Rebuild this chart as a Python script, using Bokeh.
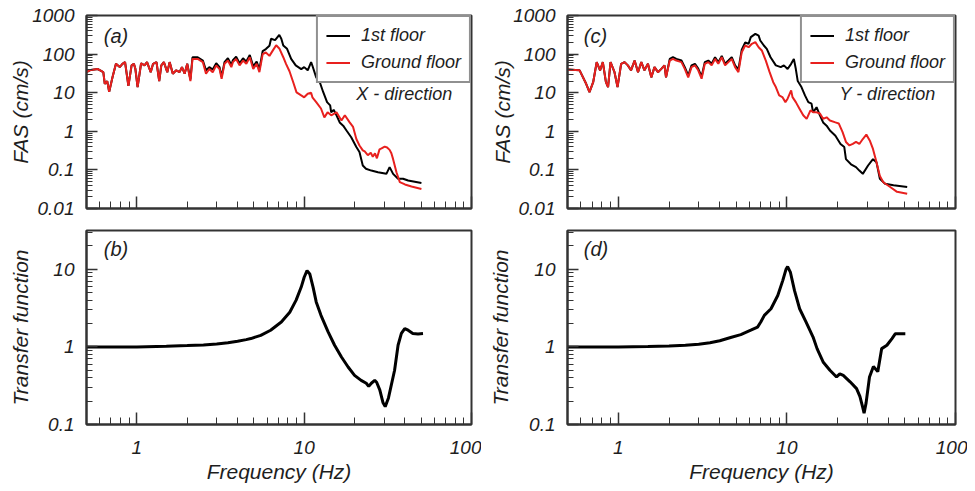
from bokeh.plotting import figure
from bokeh.layouts import row, column
from bokeh.models import Label, LogTicker, CustomJSTickFormatter, CustomLabelingPolicy
from bokeh.embed import file_html
from bokeh.resources import INLINE

# ---------------- data ----------------
# Panel (a): X-direction Fourier amplitude spectra
fx_ground_f = [0.50, 0.53, 0.585, 0.63, 0.643, 0.665, 0.683, 0.715, 0.75, 0.79, 0.82, 0.85, 0.89, 0.93,
               0.96, 0.98, 1.01, 1.06, 1.11, 1.15, 1.21, 1.25, 1.31, 1.36, 1.40, 1.45, 1.52, 1.57, 1.64,
               1.72, 1.80, 1.86, 1.93, 2.00, 2.09, 2.15, 2.31, 2.48, 2.59, 2.71, 2.84, 2.98, 3.12, 3.21,
               3.34, 3.50, 3.67, 3.75, 3.92, 4.11, 4.31, 4.51, 4.73, 4.96, 5.20, 5.40, 5.65, 5.90, 6.20,
               6.50, 6.80, 7.10, 7.50, 7.80, 8.17, 8.60, 9.00, 9.60, 10.0, 10.5, 11.0, 11.2, 11.8, 12.6,
               13.2, 13.8, 14.5, 15.6, 16.7, 17.5, 18.7, 19.6, 20.5, 21.4, 22.4, 23.0, 24.0, 25.0, 25.7,
               26.5, 27.2, 28.2, 29.0, 30.3, 31.3, 32.4, 33.2, 34.0, 35.6, 37.3, 40.0, 43.8, 50.2]
fx_ground_v = [34, 39, 41, 34, 17, 20, 10.5, 25, 56, 46, 56, 62, 15, 51,
               56, 41, 14, 58, 51, 62, 34, 56, 62, 20, 51, 62, 34, 62, 31,
               38, 34, 46, 31, 56, 20, 75, 75, 62, 31, 41, 34, 51, 41, 23,
               56, 68, 46, 62, 75, 51, 68, 56, 83, 41, 56, 34, 100, 110, 90,
               125, 170, 140, 83, 55, 36, 18.7, 10.2, 8.5, 7.6, 9.4, 10, 7.6, 5.7, 3.9,
               2.3, 3.1, 2.6, 3.1, 1.9, 2.6, 1.7, 1.3, 0.63, 0.43, 0.32, 0.30, 0.24, 0.28, 0.22,
               0.27, 0.20, 0.34, 0.36, 0.40, 0.38, 0.33, 0.27, 0.19, 0.087, 0.048, 0.042, 0.037, 0.032]

fx_first_f = [0.50, 0.53, 0.585, 0.63, 0.643, 0.665, 0.683, 0.715, 0.75, 0.79, 0.82, 0.85, 0.89, 0.93,
              0.96, 0.98, 1.01, 1.06, 1.11, 1.15, 1.21, 1.25, 1.31, 1.36, 1.40, 1.45, 1.52, 1.57, 1.64,
              1.72, 1.80, 1.86, 1.93, 2.00, 2.09, 2.15, 2.31, 2.48, 2.59, 2.71, 2.84, 2.98, 3.12, 3.21,
              3.34, 3.50, 3.67, 3.75, 3.92, 4.11, 4.31, 4.51, 4.73, 4.96, 5.20, 5.40, 5.65, 5.90, 6.20,
              6.34, 6.70, 7.10, 7.30, 7.50, 7.90, 8.36, 8.90, 9.60, 10.0, 10.5, 11.0, 11.2, 11.8, 12.4,
              13.0, 13.7, 14.3, 14.5, 15.0, 15.6, 16.3, 17.1, 17.9, 19.1, 20.5, 21.4, 22.4, 23.4, 25.2,
              27.6, 31.0, 32.4, 34.0, 36.4, 39.0, 41.8, 50.2]
fx_first_v = [34, 39, 41, 34, 17, 20, 10.5, 25, 56, 46, 56, 62, 15, 51,
              56, 41, 14, 58, 51, 62, 34, 56, 62, 20, 51, 62, 34, 62, 31,
              38, 34, 46, 31, 56, 22, 83, 83, 68, 38, 46, 40, 58, 46, 26,
              62, 78, 52, 70, 85, 58, 78, 64, 95, 48, 64, 40, 120, 135, 165,
              250, 230, 315, 250, 167, 137, 75, 51, 41, 46, 38, 62, 50, 25, 18.7,
              10.3, 5.7, 4.7, 3.1, 3.6, 2.6, 1.7, 1.4, 1.05, 0.70, 0.39, 0.29, 0.13, 0.107, 0.096,
              0.087, 0.079, 0.118, 0.079, 0.059, 0.059, 0.053, 0.046]

# Panel (c): Y-direction Fourier amplitude spectra
fy_ground_f = [0.50, 0.59, 0.645, 0.675, 0.71, 0.745, 0.78, 0.81, 0.845, 0.87, 0.90, 0.95, 0.99, 1.04,
               1.09, 1.14, 1.19, 1.25, 1.31, 1.37, 1.43, 1.50, 1.57, 1.64, 1.72, 1.80, 1.88, 1.92, 2.02,
               2.11, 2.21, 2.37, 2.48, 2.60, 2.72, 2.85, 2.98, 3.12, 3.26, 3.42, 3.58, 3.75, 3.92, 4.11,
               4.30, 4.50, 4.71, 4.93, 5.16, 5.40, 5.66, 5.93, 6.20, 6.50, 6.80, 7.10, 7.50, 7.90, 8.30,
               8.60, 9.00, 9.40, 9.80, 10.1, 10.6, 10.8, 11.3, 11.9, 12.5, 13.1, 13.8, 14.3, 15.0, 15.7,
               16.4, 17.2, 18.0, 19.4, 20.3, 21.4, 22.4, 23.5, 24.6, 25.7, 26.9, 28.2, 29.6, 31.0, 32.4,
               34.0, 35.6, 37.3, 41.0, 45.0, 51.7]
fy_ground_v = [40, 38, 17, 10.3, 18.7, 62, 38, 62, 18.7, 14, 62, 34, 14, 56,
               62, 51, 38, 68, 34, 62, 38, 56, 25, 46, 34, 41.5, 51, 25, 68,
               75, 68, 62, 41.5, 25, 46, 51, 38, 23, 56, 62, 51, 75, 56, 83,
               51, 62, 75, 46, 34, 112, 167, 151, 185, 204, 151, 124, 68, 34, 18.7,
               14, 8.5, 7.7, 5.7, 7.0, 11.5, 7.7, 5.7, 3.8, 2.6, 2.1, 3.5, 3.1, 3.1, 2.9,
               2.1, 2.3, 1.9, 1.7, 1.6, 0.95, 0.53, 0.43, 0.47, 0.53, 0.47, 0.63, 0.82, 0.58, 0.35,
               0.157, 0.07, 0.048, 0.036, 0.027, 0.024]

fy_first_f = [0.50, 0.59, 0.645, 0.675, 0.71, 0.745, 0.78, 0.81, 0.845, 0.87, 0.90, 0.95, 0.99, 1.04,
              1.09, 1.14, 1.19, 1.25, 1.31, 1.37, 1.43, 1.50, 1.57, 1.64, 1.72, 1.80, 1.88, 1.92, 2.02,
              2.11, 2.21, 2.37, 2.48, 2.60, 2.72, 2.85, 2.98, 3.12, 3.26, 3.42, 3.58, 3.75, 3.92, 4.11,
              4.30, 4.50, 4.71, 4.93, 5.16, 5.40, 5.66, 5.93, 6.11, 6.50, 6.80, 6.95, 7.30, 7.60, 8.00,
              8.60, 9.20, 9.60, 10.1, 10.6, 11.0, 11.3, 11.6, 12.2, 12.8, 13.4, 14.0, 14.3, 15.0, 15.7,
              16.4, 17.2, 18.0, 19.4, 20.8, 21.9, 22.4, 24.0, 25.7, 26.9, 28.2, 30.3, 32.4, 34.0, 35.6,
              38.2, 42.9, 51.7]
fy_first_v = [40, 38, 17, 10.3, 18.7, 62, 38, 62, 18.7, 14, 62, 34, 14, 56,
              62, 51, 38, 68, 34, 62, 38, 56, 25, 46, 34, 41.5, 51, 25, 75,
              83, 75, 68, 46, 28, 51, 56, 42, 26, 62, 68, 56, 83, 62, 90,
              56, 68, 83, 51, 40, 130, 200, 185, 275, 335, 300, 225, 167, 137, 83,
              51, 46, 51, 41, 56, 75, 41, 20, 14, 8.5, 5.7, 5.2, 3.1, 4.2, 2.6,
              1.7, 1.4, 1.05, 0.77, 0.47, 0.39, 0.19, 0.14, 0.118, 0.096, 0.079, 0.13, 0.19, 0.157, 0.059,
              0.044, 0.040, 0.036]

# Panels (b), (d): transfer functions
tf_x_f = [0.5, 0.7, 1.0, 1.5, 2.0, 2.5, 3.0, 3.5, 4.0, 4.5, 4.8, 5.5, 6.3, 7.3, 8.2, 8.95, 9.6, 10.0,
          10.4, 10.8, 11.3, 11.8, 12.6, 13.9, 15.2, 16.7, 18.3, 20.0, 21.9, 23.5, 24.3, 25.2, 26.4,
          27.1, 28.3, 29.6, 30.5, 31.9, 34.7, 36.4, 38.1, 39.9, 41.8, 44.6, 47.9, 51.3]
tf_x_v = [1.0, 1.0, 1.0, 1.02, 1.04, 1.06, 1.09, 1.13, 1.18, 1.24, 1.28, 1.41, 1.64, 2.09, 2.8, 4.0, 5.9, 7.9,
          9.6, 8.7, 5.9, 3.8, 2.55, 1.56, 1.05, 0.74, 0.55, 0.43, 0.37, 0.34, 0.31, 0.34, 0.37,
          0.35, 0.28, 0.19, 0.17, 0.22, 0.50, 1.05, 1.49, 1.72, 1.64, 1.49, 1.47, 1.49]

tf_y_f = [0.5, 0.7, 1.0, 1.5, 2.0, 2.5, 3.0, 3.5, 4.0, 4.64, 5.33, 6.11, 6.7, 7.0, 7.35, 8.05, 8.83,
          9.46, 9.9, 10.1, 10.5, 11.1, 11.9, 13.0, 14.3, 15.1, 16.4, 18.0, 19.7, 20.6, 21.6, 23.7,
          25.9, 27.1, 28.1, 28.7, 29.5, 30.9, 32.6, 34.6, 36.5, 39.2, 42.0, 44.0, 50.4]
tf_y_v = [1.0, 1.0, 1.0, 1.01, 1.03, 1.05, 1.08, 1.13, 1.2, 1.32, 1.44, 1.64, 1.80, 2.09, 2.55, 3.1, 4.6,
          7.2, 10.1, 10.8, 9.1, 5.3, 3.1, 2.09, 1.34, 0.95, 0.64, 0.50, 0.41, 0.45, 0.43, 0.355,
          0.29, 0.23, 0.17, 0.14, 0.19, 0.41, 0.56, 0.48, 0.95, 1.05, 1.28, 1.48, 1.48]

series_names = ["1st floor", "Ground floor"]
direction_labels = ["X - direction", "Y - direction"]
panel_tags = ["(a)", "(b)", "(c)", "(d)"]

# ---------------- styling ----------------
FONT = "Liberation Sans"
TXT = "#1e1e1e"
AX = "#333333"
RED = "#e8201e"


def make_fig(width, height, yrange, bl, bt, br, bb, ylabel, xlabel=None, y_standoff=0):
    p = figure(width=width, height=height, x_axis_type="log", y_axis_type="log",
               x_range=(0.5, 100), y_range=yrange, output_backend="svg", toolbar_location=None,
               min_border_left=bl, min_border_top=bt, min_border_right=br, min_border_bottom=bb)
    p.grid.visible = False
    p.outline_line_color = AX
    p.outline_line_width = 2
    p.background_fill_color = "white"
    p.border_fill_color = "white"
    for ax in (p.xaxis[0], p.yaxis[0]):
        ax.ticker = LogTicker(num_minor_ticks=10)
        ax.formatter = CustomJSTickFormatter(
            code="return tick >= 1 ? tick.toFixed(0) : String(parseFloat(tick.toPrecision(3)));")
        ax.axis_line_color = AX
        ax.axis_line_width = 2
        ax.major_tick_out = 0
        ax.minor_tick_out = 0
        ax.major_tick_line_color = AX
        ax.major_tick_line_width = 1.5
        ax.minor_tick_line_color = AX
        ax.minor_tick_line_width = 1
        ax.major_label_text_font = FONT
        ax.major_label_text_font_style = "italic"
        ax.major_label_text_font_size = "19px"
        ax.major_label_text_color = TXT
        ax.axis_label_text_font = FONT
        ax.axis_label_text_font_style = "italic"
        ax.axis_label_text_font_size = "21px"
        ax.axis_label_text_color = TXT
    p.xaxis.major_tick_in = 12
    p.xaxis.minor_tick_in = 7
    p.yaxis.major_tick_in = 11
    p.yaxis.minor_tick_in = 6
    p.yaxis.axis_label = ylabel
    p.yaxis.major_label_standoff = 12
    p.yaxis.axis_label_standoff = y_standoff
    if xlabel is None:
        # top panels: ticks only, no tick labels
        p.xaxis.major_label_text_font_size = "1px"
        p.xaxis.major_label_standoff = 0
        p.xaxis.major_label_policy = CustomLabelingPolicy(
            code="for (const i of indices) indices.unset(i)")
    else:
        p.xaxis.axis_label = xlabel
        p.xaxis.major_label_standoff = 16
        p.xaxis.axis_label_standoff = 3
    return p


def tag(p, text, x, y, size="20px"):
    p.add_layout(Label(x=x, y=y, text=text, text_font=FONT, text_font_style="italic",
                       text_font_size=size, text_color=TXT, text_baseline="middle"))


def style_legend(p):
    lg = p.legend[0]
    lg.location = "top_right"
    lg.margin = 0
    lg.padding = 8
    lg.spacing = 6
    lg.glyph_width = 24
    lg.glyph_height = 21
    lg.label_height = 21
    lg.label_standoff = 11
    lg.label_text_font = FONT
    lg.label_text_font_style = "italic"
    lg.label_text_font_size = "18px"
    lg.label_text_color = TXT
    lg.border_line_color = "#222222"
    lg.border_line_width = 2
    lg.background_fill_alpha = 1.0


# ---- panel (a)
pa = make_fig(481, 218, (0.01, 1000), 86, 15, 10, 10, "FAS (cm/s)", None, -3)
pa.line(fx_first_f, fx_first_v, line_color="black", line_width=2, legend_label=series_names[0])
pa.line(fx_ground_f, fx_ground_v, line_color=RED, line_width=2, legend_label=series_names[1])
style_legend(pa)
tag(pa, panel_tags[0], 0.634, 300)
tag(pa, direction_labels[0], 20.5, 9, "18px")

# ---- panel (b)
pb = make_fig(481, 272, (0.1, 31.6), 86, 12, 10, 66, "Transfer function", "Frequency (Hz)", 13)
pb.line(tf_x_f, tf_x_v, line_color="black", line_width=3)
tag(pb, panel_tags[1], 0.634, 18.4)

# ---- panel (c)
pc = make_fig(486, 218, (0.01, 1000), 86, 15, 12, 10, "FAS (cm/s)", None, -4)
pc.line(fy_first_f, fy_first_v, line_color="black", line_width=2, legend_label=series_names[0])
pc.line(fy_ground_f, fy_ground_v, line_color=RED, line_width=2, legend_label=series_names[1])
style_legend(pc)
tag(pc, panel_tags[2], 0.624, 300)
tag(pc, direction_labels[1], 20.5, 9, "18px")

# ---- panel (d)
pd_ = make_fig(486, 272, (0.1, 31.6), 86, 12, 12, 66, "Transfer function", "Frequency (Hz)", 14)
pd_.line(tf_y_f, tf_y_v, line_color="black", line_width=3)
tag(pd_, panel_tags[3], 0.624, 18.0)

layout = row(column(pa, pb), column(pc, pd_))
open("out.html", "w").write(file_html(layout, INLINE))
